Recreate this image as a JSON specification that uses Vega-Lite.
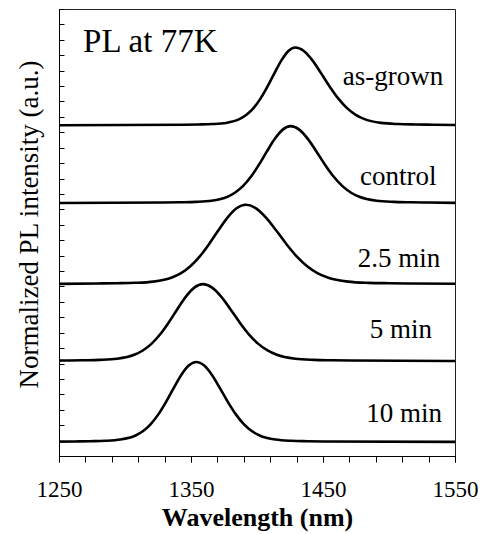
{
  "$schema": "https://vega.github.io/schema/vega-lite/v6.json",
  "width": 396,
  "height": 447,
  "autosize": {"type": "none"},
  "padding": {"left": 59, "top": 9, "right": 28, "bottom": 78},
  "background": "white",
  "config": {
    "view": {"stroke": "#222222", "strokeWidth": 1},
    "font": "Liberation Serif",
    "text": {"font": "Liberation Serif"},
    "mark": {"font": "Liberation Serif"}
  },
  "datasets": {
    "curves": [
      {"s": "as-grown", "wl": 1250, "v": 4.292},
      {"s": "as-grown", "wl": 1345, "v": 4.299},
      {"s": "as-grown", "wl": 1355.5, "v": 4.302},
      {"s": "as-grown", "wl": 1366, "v": 4.307},
      {"s": "as-grown", "wl": 1376.5, "v": 4.322},
      {"s": "as-grown", "wl": 1387, "v": 4.374},
      {"s": "as-grown", "wl": 1392.25, "v": 4.43},
      {"s": "as-grown", "wl": 1397.5, "v": 4.517},
      {"s": "as-grown", "wl": 1402.75, "v": 4.64},
      {"s": "as-grown", "wl": 1408, "v": 4.795},
      {"s": "as-grown", "wl": 1413.25, "v": 4.968},
      {"s": "as-grown", "wl": 1418.5, "v": 5.133},
      {"s": "as-grown", "wl": 1423.75, "v": 5.255},
      {"s": "as-grown", "wl": 1429, "v": 5.3},
      {"s": "as-grown", "wl": 1435.5, "v": 5.255},
      {"s": "as-grown", "wl": 1442, "v": 5.133},
      {"s": "as-grown", "wl": 1448.5, "v": 4.968},
      {"s": "as-grown", "wl": 1455, "v": 4.795},
      {"s": "as-grown", "wl": 1461.5, "v": 4.64},
      {"s": "as-grown", "wl": 1468, "v": 4.517},
      {"s": "as-grown", "wl": 1474.5, "v": 4.43},
      {"s": "as-grown", "wl": 1481, "v": 4.374},
      {"s": "as-grown", "wl": 1494, "v": 4.322},
      {"s": "as-grown", "wl": 1507, "v": 4.307},
      {"s": "as-grown", "wl": 1520, "v": 4.302},
      {"s": "as-grown", "wl": 1533, "v": 4.299},
      {"s": "as-grown", "wl": 1550, "v": 4.295},

      {"s": "control", "wl": 1250, "v": 3.283},
      {"s": "control", "wl": 1329.5, "v": 3.289},
      {"s": "control", "wl": 1341.5, "v": 3.292},
      {"s": "control", "wl": 1353.5, "v": 3.297},
      {"s": "control", "wl": 1365.5, "v": 3.312},
      {"s": "control", "wl": 1377.5, "v": 3.363},
      {"s": "control", "wl": 1383.5, "v": 3.419},
      {"s": "control", "wl": 1389.5, "v": 3.505},
      {"s": "control", "wl": 1395.5, "v": 3.626},
      {"s": "control", "wl": 1401.5, "v": 3.78},
      {"s": "control", "wl": 1407.5, "v": 3.952},
      {"s": "control", "wl": 1413.5, "v": 4.115},
      {"s": "control", "wl": 1419.5, "v": 4.235},
      {"s": "control", "wl": 1425.5, "v": 4.28},
      {"s": "control", "wl": 1432, "v": 4.235},
      {"s": "control", "wl": 1438.5, "v": 4.115},
      {"s": "control", "wl": 1445, "v": 3.952},
      {"s": "control", "wl": 1451.5, "v": 3.78},
      {"s": "control", "wl": 1458, "v": 3.626},
      {"s": "control", "wl": 1464.5, "v": 3.505},
      {"s": "control", "wl": 1471, "v": 3.419},
      {"s": "control", "wl": 1477.5, "v": 3.363},
      {"s": "control", "wl": 1490.5, "v": 3.312},
      {"s": "control", "wl": 1503.5, "v": 3.297},
      {"s": "control", "wl": 1516.5, "v": 3.292},
      {"s": "control", "wl": 1529.5, "v": 3.289},
      {"s": "control", "wl": 1550, "v": 3.285},

      {"s": "2.5 min", "wl": 1250, "v": 2.234},
      {"s": "2.5 min", "wl": 1279.5, "v": 2.239},
      {"s": "2.5 min", "wl": 1293.5, "v": 2.242},
      {"s": "2.5 min", "wl": 1307.5, "v": 2.247},
      {"s": "2.5 min", "wl": 1321.5, "v": 2.263},
      {"s": "2.5 min", "wl": 1335.5, "v": 2.316},
      {"s": "2.5 min", "wl": 1342.5, "v": 2.373},
      {"s": "2.5 min", "wl": 1349.5, "v": 2.462},
      {"s": "2.5 min", "wl": 1356.5, "v": 2.587},
      {"s": "2.5 min", "wl": 1363.5, "v": 2.745},
      {"s": "2.5 min", "wl": 1370.5, "v": 2.922},
      {"s": "2.5 min", "wl": 1377.5, "v": 3.09},
      {"s": "2.5 min", "wl": 1384.5, "v": 3.214},
      {"s": "2.5 min", "wl": 1391.5, "v": 3.26},
      {"s": "2.5 min", "wl": 1399.25, "v": 3.214},
      {"s": "2.5 min", "wl": 1407, "v": 3.09},
      {"s": "2.5 min", "wl": 1414.75, "v": 2.922},
      {"s": "2.5 min", "wl": 1422.5, "v": 2.745},
      {"s": "2.5 min", "wl": 1430.25, "v": 2.587},
      {"s": "2.5 min", "wl": 1438, "v": 2.462},
      {"s": "2.5 min", "wl": 1445.75, "v": 2.373},
      {"s": "2.5 min", "wl": 1453.5, "v": 2.316},
      {"s": "2.5 min", "wl": 1469, "v": 2.263},
      {"s": "2.5 min", "wl": 1484.5, "v": 2.247},
      {"s": "2.5 min", "wl": 1500, "v": 2.242},
      {"s": "2.5 min", "wl": 1515.5, "v": 2.239},
      {"s": "2.5 min", "wl": 1550, "v": 2.235},

      {"s": "5 min", "wl": 1250, "v": 1.238},
      {"s": "5 min", "wl": 1255, "v": 1.239},
      {"s": "5 min", "wl": 1268, "v": 1.242},
      {"s": "5 min", "wl": 1281, "v": 1.247},
      {"s": "5 min", "wl": 1294, "v": 1.262},
      {"s": "5 min", "wl": 1307, "v": 1.313},
      {"s": "5 min", "wl": 1313.5, "v": 1.369},
      {"s": "5 min", "wl": 1320, "v": 1.455},
      {"s": "5 min", "wl": 1326.5, "v": 1.576},
      {"s": "5 min", "wl": 1333, "v": 1.73},
      {"s": "5 min", "wl": 1339.5, "v": 1.902},
      {"s": "5 min", "wl": 1346, "v": 2.065},
      {"s": "5 min", "wl": 1352.5, "v": 2.185},
      {"s": "5 min", "wl": 1359, "v": 2.23},
      {"s": "5 min", "wl": 1366, "v": 2.185},
      {"s": "5 min", "wl": 1373, "v": 2.065},
      {"s": "5 min", "wl": 1380, "v": 1.902},
      {"s": "5 min", "wl": 1387, "v": 1.73},
      {"s": "5 min", "wl": 1394, "v": 1.576},
      {"s": "5 min", "wl": 1401, "v": 1.455},
      {"s": "5 min", "wl": 1408, "v": 1.369},
      {"s": "5 min", "wl": 1415, "v": 1.313},
      {"s": "5 min", "wl": 1429, "v": 1.262},
      {"s": "5 min", "wl": 1443, "v": 1.247},
      {"s": "5 min", "wl": 1457, "v": 1.242},
      {"s": "5 min", "wl": 1471, "v": 1.239},
      {"s": "5 min", "wl": 1550, "v": 1.233},

      {"s": "10 min", "wl": 1250, "v": 0.186},
      {"s": "10 min", "wl": 1262, "v": 0.189},
      {"s": "10 min", "wl": 1273.5, "v": 0.192},
      {"s": "10 min", "wl": 1285, "v": 0.197},
      {"s": "10 min", "wl": 1296.5, "v": 0.213},
      {"s": "10 min", "wl": 1308, "v": 0.266},
      {"s": "10 min", "wl": 1313.75, "v": 0.324},
      {"s": "10 min", "wl": 1319.5, "v": 0.414},
      {"s": "10 min", "wl": 1325.25, "v": 0.54},
      {"s": "10 min", "wl": 1331, "v": 0.7},
      {"s": "10 min", "wl": 1336.75, "v": 0.878},
      {"s": "10 min", "wl": 1342.5, "v": 1.048},
      {"s": "10 min", "wl": 1348.25, "v": 1.173},
      {"s": "10 min", "wl": 1354, "v": 1.22},
      {"s": "10 min", "wl": 1360, "v": 1.173},
      {"s": "10 min", "wl": 1366, "v": 1.048},
      {"s": "10 min", "wl": 1372, "v": 0.878},
      {"s": "10 min", "wl": 1378, "v": 0.7},
      {"s": "10 min", "wl": 1384, "v": 0.54},
      {"s": "10 min", "wl": 1390, "v": 0.414},
      {"s": "10 min", "wl": 1396, "v": 0.324},
      {"s": "10 min", "wl": 1402, "v": 0.266},
      {"s": "10 min", "wl": 1414, "v": 0.213},
      {"s": "10 min", "wl": 1426, "v": 0.197},
      {"s": "10 min", "wl": 1438, "v": 0.192},
      {"s": "10 min", "wl": 1450, "v": 0.189},
      {"s": "10 min", "wl": 1550, "v": 0.183}
    ],
    "labels": [
      {"t": "as-grown", "wl": 1503, "v": 4.81},
      {"t": "control", "wl": 1507, "v": 3.516},
      {"t": "2.5 min", "wl": 1507.5, "v": 2.452},
      {"t": "5 min", "wl": 1509, "v": 1.531},
      {"t": "10 min", "wl": 1511.5, "v": 0.441}
    ],
    "heading": [
      {"t": "PL at 77K", "wl": 1268.2, "v": 5.242}
    ]
  },
  "resolve": {"axis": {"x": "independent", "y": "independent"}},
  "layer": [
    {
      "data": {"name": "curves"},
      "mark": {"type": "line", "interpolate": "monotone", "color": "black", "strokeWidth": 2.6},
      "encoding": {
        "x": {
          "field": "wl", "type": "quantitative",
          "scale": {"domain": [1250, 1550], "nice": false, "zero": false},
          "axis": {
            "orient": "bottom",
            "values": [1250, 1350, 1450, 1550],
            "format": "d",
            "tickSize": 6, "tickColor": "black", "domainColor": "black", "grid": false,
            "labelFont": "Liberation Serif", "labelFontSize": 23, "labelColor": "black",
            "labelPadding": 16, "labelFlush": false, "labelOverlap": false,
            "title": "Wavelength (nm)", "titleFont": "Liberation Serif", "titleFontSize": 26,
            "titleFontWeight": "bold", "titleColor": "black", "titlePadding": 3
          }
        },
        "y": {
          "field": "v", "type": "quantitative",
          "scale": {"domain": [0, 5.8], "nice": false, "zero": false},
          "axis": {
            "orient": "left",
            "values": [0, 0.2, 0.4, 0.6, 0.8, 1, 1.2, 1.4, 1.6, 1.8, 2, 2.2, 2.4, 2.6, 2.8, 3, 3.2, 3.4, 3.6, 3.8, 4, 4.2, 4.4, 4.6, 4.8, 5, 5.2, 5.4, 5.6, 5.8],
            "labels": false, "tickSize": -5, "tickColor": "black", "domainColor": "black", "grid": false,
            "title": "Normalized PL intensity (a.u.)", "titleFont": "Liberation Serif", "titleFontSize": 27,
            "titleFontWeight": "normal", "titleColor": "black",
            "titleAngle": -90, "titleX": -30, "titleY": 215, "titleAlign": "center", "titleBaseline": "middle"
          }
        },
        "detail": {"field": "s", "type": "nominal"}
      }
    },
    {
      "data": {"name": "labels"},
      "mark": {"type": "text", "font": "Liberation Serif", "fontSize": 27, "align": "center", "baseline": "alphabetic", "color": "black"},
      "encoding": {
        "x": {
          "field": "wl", "type": "quantitative",
          "axis": {
            "orient": "bottom",
            "values": [1250, 1270, 1290, 1310, 1330, 1350, 1370, 1390, 1410, 1430, 1450, 1470, 1490, 1510, 1530, 1550],
            "labels": false, "title": null, "tickSize": 6, "tickColor": "black", "domainColor": "black", "grid": false
          }
        },
        "y": {"field": "v", "type": "quantitative", "axis": null},
        "text": {"field": "t"}
      }
    },
    {
      "data": {"name": "heading"},
      "mark": {"type": "text", "font": "Liberation Serif", "fontSize": 33, "align": "left", "baseline": "alphabetic", "color": "black"},
      "encoding": {
        "x": {"field": "wl", "type": "quantitative", "axis": null},
        "y": {"field": "v", "type": "quantitative", "axis": null},
        "text": {"field": "t"}
      }
    }
  ]
}
